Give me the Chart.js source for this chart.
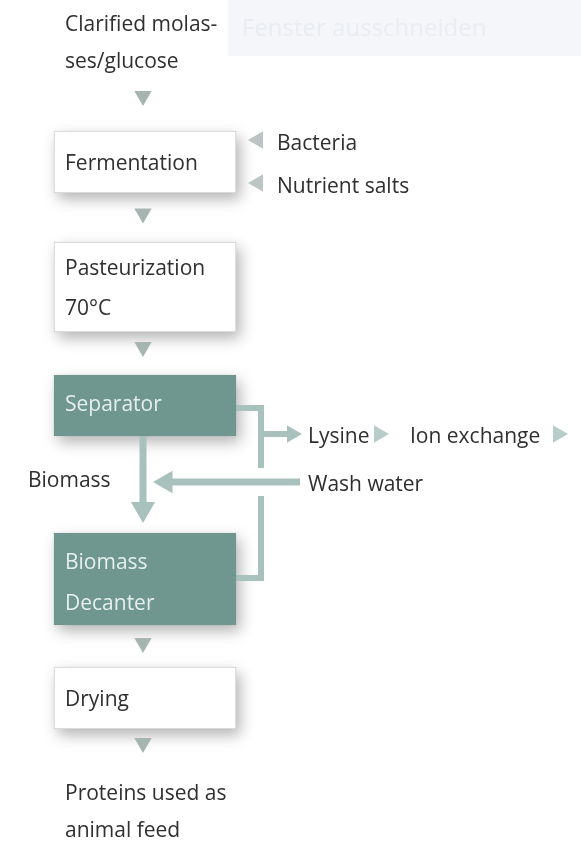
<!DOCTYPE html>
<html>
<head>
<meta charset="utf-8">
<script src="https://cdn.jsdelivr.net/npm/chart.js@4/dist/chart.umd.min.js"></script>
<style>
  html,body{margin:0;padding:0;background:#fff;overflow:hidden;}
  canvas{display:block;}
</style>
</head>
<body>
<canvas id="c" width="581" height="842"></canvas>
<script>
// ---- data (diagram layout in chart units: x 0..581, y 0..842 top-down) ----
const stepLabels   = [['Fermentation'], ['Pasteurization', '70°C'], ['Separator'], ['Biomass', 'Decanter'], ['Drying']];
const stepTop      = [131, 242, 375, 533, 667];
const stepBottom   = [193, 332, 436, 625, 729];
const stepDark     = [false, false, true, true, false];
const stepTextY    = [[170], [275, 315], [411], [569, 610], [706]];
const columnX      = 145;

const sideLabels   = ['Clarified molas-', 'ses/glucose', 'Bacteria', 'Nutrient salts', 'Lysine', 'Ion exchange', 'Wash water', 'Biomass', 'Proteins used as', 'animal feed'];
const sideX        = [65, 65, 277, 277, 308, 410, 308, 28, 65, 65];
const sideY        = [31, 68, 150, 193, 443, 443, 491, 487, 800, 837];

const downArrowX   = 143;
const downArrowY   = [96, 213.5, 347, 643, 743];
const feedArrowX   = 258;
const feedArrowY   = [140, 183];
const outMarkX     = [379, 558];
const outMarkY     = 434;

const bracketTop    = [[236, 408], [261, 408], [261, 468]];
const bracketBottom = [[261, 496], [261, 578], [236, 578]];
const lysineShaft   = [[261, 434], [288, 434]];
const biomassShaft  = [[143, 436], [143, 505]];
const washShaft     = [[300, 482], [170, 482]];
const lysineHead    = [292, 434];
const biomassHead   = [143, 509];
const washHead      = [166, 482];

const headerText = 'Fenster ausschneiden';

// ---- helpers ----
const pts = arr => arr.map(p => ({x: p[0], y: p[1]}));
const LINE = '#a9c1bd';
const FONT = '500 21px "Open Sans", "Noto Sans", sans-serif';
const INK = '#2f2f2f';

function lineDs(arr, w) {
  return {type: 'line', data: pts(arr), borderColor: LINE, borderWidth: w, pointRadius: 0,
          borderCapStyle: 'butt', borderJoinStyle: 'miter', tension: 0, fill: false, order: 3, clip: false};
}
function triDs(data, rot, r, color) {
  return {type: 'scatter', data, pointStyle: 'triangle', rotation: rot, pointRadius: r,
          pointBackgroundColor: color, pointBorderWidth: 0, order: 2, clip: false};
}

const decorPlugin = {
  id: 'decor',
  beforeDraw(chart) {
    const {ctx} = chart; const x = chart.scales.x, y = chart.scales.y;
    ctx.save();
    ctx.fillStyle = '#ffffff';
    ctx.fillRect(0, 0, chart.width, chart.height);
    // faint header band
    const x0 = x.getPixelForValue(228), y0 = y.getPixelForValue(0), y1 = y.getPixelForValue(56);
    ctx.fillStyle = '#f5f6f9';
    ctx.fillRect(x0, y0, x.getPixelForValue(581) - x0, y1 - y0);
    ctx.font = '24px "Open Sans", sans-serif';
    ctx.fillStyle = '#e9ecf1';
    ctx.textBaseline = 'alphabetic';
    ctx.fillText(headerText, x.getPixelForValue(242), y.getPixelForValue(36));
    ctx.restore();
  },
  beforeDatasetsDraw(chart) {
    // soft drop shadows under the process boxes
    const ctx = chart.ctx;
    const meta = chart.getDatasetMeta(0);
    ctx.save();
    ctx.shadowColor = 'rgba(0,0,0,0.30)';
    ctx.shadowBlur = 14;
    ctx.shadowOffsetX = 4;
    ctx.shadowOffsetY = 6;
    ctx.fillStyle = '#ffffff';
    meta.data.forEach(el => {
      const p = el.getProps(['x', 'y', 'base', 'width'], true);
      const top = Math.min(p.y, p.base), h = Math.abs(p.base - p.y);
      ctx.fillRect(p.x - p.width / 2, top, p.width, h);
    });
    ctx.restore();
  },
  afterDatasetsDraw(chart) {
    const {ctx} = chart; const x = chart.scales.x, y = chart.scales.y;
    ctx.save();
    ctx.font = FONT;
    ctx.textBaseline = 'alphabetic';
    ctx.textAlign = 'left';
    stepLabels.forEach((lines, i) => {
      ctx.fillStyle = stepDark[i] ? '#e6efed' : INK;
      lines.forEach((t, j) => ctx.fillText(t, x.getPixelForValue(65), y.getPixelForValue(stepTextY[i][j])));
    });
    ctx.fillStyle = INK;
    sideLabels.forEach((t, i) => ctx.fillText(t, x.getPixelForValue(sideX[i]), y.getPixelForValue(sideY[i])));
    ctx.restore();
  }
};

new Chart(document.getElementById('c'), {
  type: 'scatter',
  data: {
    datasets: [
      {
        type: 'bar',
        data: stepTop.map((t, i) => ({x: columnX, y: [t, stepBottom[i]]})),
        backgroundColor: stepDark.map(d => d ? '#6f978f' : '#ffffff'),
        borderColor: stepDark.map(d => d ? '#6f978f' : '#cdd1d1'),
        borderWidth: 1,
        borderSkipped: false,
        barThickness: 182,
        grouped: false,
        order: 1,
        clip: false
      },
      lineDs(bracketTop, 6),
      lineDs(bracketBottom, 6),
      lineDs(lysineShaft, 6),
      lineDs(biomassShaft, 7),
      lineDs(washShaft, 7),
      triDs(downArrowY.map(v => ({x: downArrowX, y: v})), 180, 10, '#a6b4b2'),
      triDs(feedArrowY.map(v => ({x: feedArrowX, y: v})), 270, 10, '#bcc5c4'),
      triDs(outMarkX.map(v => ({x: v, y: outMarkY})), 90, 10, '#b8cdc9'),
      triDs([{x: lysineHead[0], y: lysineHead[1]}], 90, 10, LINE),
      triDs([{x: biomassHead[0], y: biomassHead[1]}], 180, 14, LINE),
      triDs([{x: washHead[0], y: washHead[1]}], 270, 13, LINE)
    ]
  },
  options: {
    responsive: false,
    animation: false,
    events: [],
    layout: {padding: 0, autoPadding: false},
    plugins: {legend: {display: false}, tooltip: {enabled: false}},
    scales: {
      x: {type: 'linear', min: 0, max: 581, display: false, offset: false, grid: {offset: false}},
      y: {type: 'linear', min: 0, max: 842, reverse: true, display: false, offset: false, beginAtZero: false}
    }
  },
  plugins: [decorPlugin]
});
</script>
</body>
</html>
